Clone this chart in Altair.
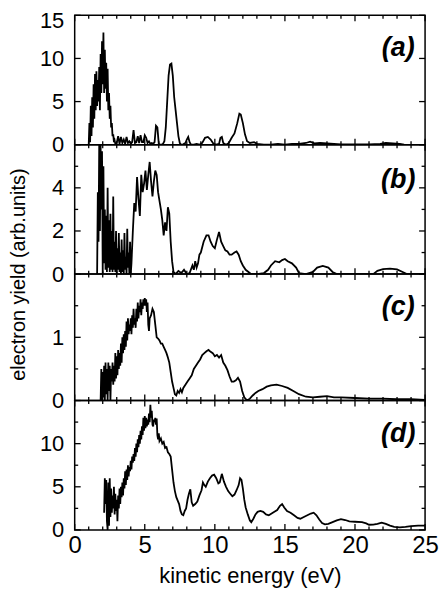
import altair as alt
import pandas as pd

FONT = "Liberation Sans"

# x axis ticks (kinetic energy, eV)
x_major = [0, 5, 10, 15, 20, 25]
x_minor = [1, 2, 3, 4, 6, 7, 8, 9, 11, 12, 13, 14, 16, 17, 18, 19, 21, 22, 23, 24]

# panel (a)
a_points = [(1.00,0.0),(1.05,2.5),(1.10,0.3),(1.15,4.5),(1.20,1.0),(1.25,5.5),(1.30,2.0),(1.35,7.0),
            (1.40,3.0),(1.45,8.2),(1.50,4.0),(1.55,8.5),(1.60,4.5),(1.65,7.5),(1.70,5.0),(1.75,9.0),
            (1.80,4.0),(1.85,10.5),(1.90,6.0),(1.95,12.0),(2.00,7.0),(2.05,13.0),(2.10,6.0),(2.15,11.0),
            (2.20,6.5),(2.25,9.5),(2.30,5.0),(2.35,8.8),(2.40,4.0),(2.45,6.0),(2.50,3.0),(2.55,4.5),
            (2.60,2.0),(2.65,2.5),(2.70,1.0),(2.75,1.2),(2.80,0.3),(2.85,0.5),(2.90,0.1),
            (3.0,0.2),(3.1,1.0),(3.2,0.1),(3.3,0.9),(3.4,0.2),(3.5,0.6),(3.6,0.1),(3.7,0.9),(3.8,0.2),
            (3.9,0.4),(4.0,0.1),(4.1,0.3),(4.2,1.7),(4.3,0.2),(4.4,0.3),(4.5,1.0),(4.6,0.2),(4.7,1.1),
            (4.8,0.3),(4.9,0.3),(5.0,1.1),(5.1,0.8),(5.2,0.2),(5.3,0.4),(5.4,0.1),(5.5,0.2),(5.6,0.1),
            (5.7,0.3),(5.8,2.2),(5.9,2.0),(6.0,0.1),(6.1,0.0),(6.2,0.0),(6.3,0.1),
            (6.4,0.4),(6.5,2.0),(6.6,5.0),(6.7,8.0),(6.8,9.3),(6.9,9.4),(7.0,8.0),(7.1,5.5),(7.2,4.0),
            (7.3,2.5),(7.4,1.0),(7.5,0.2),(7.6,0.0),(7.7,0.0),(7.8,0.1),(7.9,0.2),(8.0,0.6),(8.1,0.9),
            (8.2,0.3),(8.3,0.0),(8.5,0.0),(8.7,0.1),(8.9,0.0),(9.1,0.2),(9.3,0.8),(9.5,0.9),(9.7,0.6),
            (9.9,0.1),(10.1,0.0),(10.3,0.1),(10.4,0.8),(10.5,0.9),(10.6,0.2),(10.8,0.0),(11.0,0.2),
            (11.2,0.8),(11.4,1.3),(11.6,2.5),(11.75,3.6),(11.85,3.5),(12.0,2.5),(12.15,1.2),(12.3,0.4),
            (12.5,0.2),(12.8,0.3),(13.0,0.1),(13.5,0.0),(14.0,0.0),(14.5,0.1),(15.0,0.0),(15.5,0.1),
            (16.0,0.1),(16.5,0.2),(16.8,0.35),(17.1,0.15),(17.5,0.2),(18.0,0.15),(18.5,0.1),(19.0,0.05),
            (20.0,0.05),(21.0,0.05),(21.8,0.1),(22.2,0.2),(22.7,0.15),(23.2,0.1),(23.5,0.0)]

# panel (b)
b_points = [(1.60,0.0),(1.65,3.8),(1.70,1.5),(1.75,6.0),(1.80,2.0),(1.85,6.0),(1.90,3.0),(1.95,5.7),
            (2.00,0.0),(2.05,5.0),(2.10,0.5),(2.15,3.0),(2.20,0.2),(2.25,2.7),(2.30,0.1),(2.35,4.0),
            (2.40,0.3),(2.45,2.5),(2.50,0.1),(2.55,2.8),(2.60,0.2),(2.65,2.0),(2.70,0.1),(2.75,3.6),
            (2.80,0.2),(2.85,1.5),(2.90,0.1),(2.95,2.0),(3.00,0.0),(3.05,1.2),(3.10,0.2),(3.15,1.9),
            (3.20,0.1),(3.25,1.0),(3.30,0.0),(3.35,1.6),(3.40,0.1),(3.45,1.1),(3.50,0.0),(3.55,1.9),
            (3.60,0.2),(3.65,0.8),(3.70,0.0),(3.75,2.1),(3.80,0.3),(3.85,1.0),(3.90,0.0),(3.95,1.5),
            (4.00,0.0),(4.05,0.5),(4.15,2.0),(4.25,3.3),(4.35,2.9),(4.45,4.5),(4.55,3.5),(4.65,2.7),
            (4.75,4.6),(4.85,3.8),(4.95,4.2),(5.05,4.8),(5.15,3.9),(5.25,4.6),(5.35,5.2),(5.45,4.3),
            (5.55,3.6),(5.65,4.3),(5.75,4.8),(5.85,4.6),(5.95,3.8),(6.05,3.4),(6.15,3.0),(6.25,2.5),
            (6.35,1.8),(6.45,2.4),(6.55,2.0),(6.65,3.1),(6.75,2.8),(6.85,1.5),(6.95,0.6),(7.05,0.1),
            (7.2,0.0),(7.4,0.15),(7.6,0.05),(7.8,0.2),(8.0,0.0),(8.2,0.05),(8.4,0.4),(8.5,0.2),(8.6,0.6),
            (8.7,0.3),(8.8,0.5),(8.9,0.9),(9.0,1.0),(9.2,1.5),(9.4,1.8),(9.55,1.8),(9.7,1.5),(9.85,1.3),
            (10.0,1.2),(10.15,1.6),(10.3,1.95),(10.45,1.5),(10.6,1.3),(10.75,1.1),(10.9,1.05),
            (11.05,0.9),(11.2,0.9),(11.4,1.0),(11.55,1.05),(11.7,0.9),(11.85,0.6),(12.0,0.4),(12.2,0.2),
            (12.4,0.1),(12.6,0.0),(13.0,0.0),(13.5,0.05),(13.8,0.2),(14.0,0.4),(14.3,0.6),(14.6,0.55),
            (14.8,0.65),(15.0,0.7),(15.2,0.6),(15.5,0.5),(15.8,0.3),(16.0,0.05),(16.5,0.0),(17.0,0.1),
            (17.3,0.3),(17.7,0.38),(18.1,0.3),(18.4,0.1),(18.7,0.0),(20.0,0.0),(21.3,0.0),(21.6,0.15),
            (22.0,0.23),(22.5,0.25),(23.0,0.22),(23.4,0.1),(23.7,0.0),(25.0,0.0)]

# panel (c)
c_points = [(1.85,0.0),(1.90,0.5),(1.95,0.0),(2.00,0.45),(2.05,0.05),(2.10,0.55),(2.15,0.0),(2.20,0.6),
            (2.25,0.1),(2.30,0.5),(2.35,0.0),(2.40,0.6),(2.45,0.15),(2.50,0.55),(2.55,0.0),(2.60,0.5),
            (2.65,0.3),(2.70,0.6),(2.75,0.25),(2.80,0.55),(2.85,0.3),(2.90,0.75),(2.95,0.35),(3.00,0.7),
            (3.05,0.4),(3.10,0.8),(3.15,0.5),(3.20,0.75),(3.25,0.55),(3.30,0.9),(3.35,0.6),(3.40,1.0),
            (3.45,0.75),(3.50,1.05),(3.55,0.8),(3.60,1.1),(3.65,0.85),(3.70,1.25),(3.75,0.95),(3.80,1.3),
            (3.85,1.05),(3.90,1.2),(3.95,1.1),(4.00,1.3),(4.05,1.05),(4.10,1.35),(4.15,1.15),(4.20,1.45),
            (4.25,1.2),(4.30,1.3),(4.35,1.15),(4.40,1.45),(4.45,1.25),(4.50,1.55),(4.55,1.3),(4.60,1.5),
            (4.65,1.4),(4.70,1.6),(4.75,1.35),(4.80,1.55),(4.85,1.45),(4.90,1.6),(4.95,1.5),(5.00,1.62),
            (5.05,1.5),(5.10,1.6),(5.15,1.4),(5.20,1.55),(5.25,1.2),(5.30,1.1),(5.35,1.3),(5.45,1.35),
            (5.55,1.45),(5.65,1.4),(5.75,1.2),(5.85,1.0),(5.95,0.98),(6.05,0.95),(6.15,0.9),(6.25,0.9),
            (6.35,0.85),(6.45,0.8),(6.55,0.75),(6.65,0.68),(6.75,0.6),(6.85,0.45),(6.95,0.3),(7.05,0.2),
            (7.15,0.1),(7.25,0.08),(7.35,0.15),(7.45,0.12),(7.55,0.18),(7.65,0.13),(7.75,0.2),(7.9,0.25),
            (8.05,0.3),(8.2,0.35),(8.35,0.4),(8.5,0.5),(8.65,0.55),(8.8,0.6),(8.95,0.65),(9.1,0.72),
            (9.25,0.75),(9.4,0.78),(9.55,0.8),(9.7,0.77),(9.85,0.75),(10.0,0.7),(10.15,0.72),(10.3,0.68),
            (10.45,0.72),(10.6,0.6),(10.75,0.55),(10.9,0.48),(11.05,0.38),(11.2,0.3),(11.35,0.3),
            (11.5,0.32),(11.65,0.36),(11.8,0.3),(11.95,0.15),(12.1,0.05),(12.3,0.0),(12.5,0.03),
            (12.7,0.08),(12.9,0.12),(13.1,0.15),(13.4,0.18),(13.7,0.22),(14.0,0.24),(14.4,0.25),
            (14.8,0.23),(15.2,0.2),(15.6,0.15),(16.0,0.1),(16.5,0.06),(17.0,0.05),(17.5,0.06),(18.0,0.07),
            (18.5,0.05),(19.0,0.05),(20.0,0.04),(21.0,0.03),(22.0,0.03),(23.0,0.02),(24.0,0.02),(25.0,0.01)]

# panel (d)
d_points = [(2.10,2.0),(2.15,6.0),(2.20,3.0),(2.25,5.8),(2.30,1.0),(2.35,0.0),(2.40,5.5),(2.45,0.5),
            (2.50,6.0),(2.55,1.5),(2.60,4.8),(2.65,2.0),(2.70,4.0),(2.75,2.5),(2.80,5.0),(2.85,1.8),
            (2.90,4.2),(2.95,2.2),(3.00,3.5),(3.05,1.0),(3.10,4.0),(3.15,2.5),(3.20,4.8),(3.25,3.0),
            (3.30,5.0),(3.35,3.8),(3.40,5.5),(3.45,4.0),(3.50,6.0),(3.55,4.8),(3.60,6.8),(3.65,5.2),
            (3.70,7.0),(3.75,5.8),(3.80,7.5),(3.85,6.2),(3.90,7.3),(3.95,6.8),(4.00,8.0),(4.05,7.0),
            (4.10,8.5),(4.15,7.8),(4.20,8.8),(4.25,8.0),(4.30,9.5),(4.35,8.5),(4.40,10.0),(4.45,9.0),
            (4.50,10.5),(4.55,9.6),(4.60,11.0),(4.65,10.0),(4.70,11.5),(4.75,10.5),(4.80,12.0),(4.85,11.0),
            (4.90,13.0),(4.95,11.5),(5.00,13.2),(5.05,11.8),(5.10,13.0),(5.15,12.0),(5.20,12.8),(5.25,12.2),
            (5.30,13.5),(5.35,12.5),(5.40,14.5),(5.45,13.0),(5.50,13.8),(5.55,12.2),(5.60,12.0),(5.65,12.8),
            (5.70,12.5),(5.75,13.0),(5.80,12.2),(5.85,12.9),(5.90,11.0),(5.95,10.5),(6.00,11.2),(6.05,10.3),
            (6.15,10.6),(6.25,10.0),(6.35,10.2),(6.45,9.5),(6.55,9.6),(6.65,9.0),(6.75,8.8),(6.85,8.5),
            (6.95,7.0),(7.05,5.5),(7.15,4.5),(7.25,3.8),(7.35,3.4),(7.45,3.0),(7.55,2.2),(7.65,1.8),
            (7.75,1.7),(7.85,2.2),(7.95,2.5),(8.05,3.5),(8.15,4.2),(8.25,4.7),(8.35,3.2),(8.45,2.8),
            (8.6,3.0),(8.75,3.3),(8.9,4.0),(9.05,4.6),(9.15,5.5),(9.25,5.2),(9.35,5.0),(9.5,5.6),(9.65,6.0),
            (9.8,6.3),(9.95,6.4),(10.1,6.0),(10.25,5.4),(10.35,5.5),(10.5,6.5),(10.65,5.6),(10.8,5.0),
            (10.95,4.5),(11.1,4.2),(11.25,3.9),(11.4,4.1),(11.55,4.6),(11.7,5.2),(11.8,6.0),(11.9,5.8),
            (12.0,4.8),(12.1,3.5),(12.2,2.6),(12.35,1.8),(12.5,1.1),(12.6,0.9),(12.75,1.3),(12.9,1.8),
            (13.05,2.1),(13.25,2.2),(13.45,2.1),(13.65,1.8),(13.85,1.7),(14.05,1.9),(14.25,2.1),(14.45,2.3),
            (14.65,2.8),(14.8,3.0),(14.95,2.6),(15.15,2.2),(15.4,2.0),(15.65,1.7),(15.9,1.4),(16.1,1.3),
            (16.35,1.5),(16.6,1.7),(16.85,1.9),(17.05,2.0),(17.25,1.7),(17.45,1.2),(17.65,0.8),(17.85,0.65),
            (18.1,0.7),(18.4,0.9),(18.7,1.1),(19.0,1.25),(19.3,1.15),(19.6,1.0),(20.0,0.95),(20.5,0.9),
            (20.8,0.75),(21.0,0.6),(21.3,0.62),(21.6,0.7),(21.9,0.85),(22.2,0.7),(22.5,0.5),(22.8,0.35),
            (23.2,0.3),(23.6,0.35),(24.0,0.45),(24.5,0.5),(25.0,0.5)]

panel_labels = ["(a)", "(b)", "(c)", "(d)"]
y_max = [15, 6, 2, 15]
y_major = [[0, 5, 10, 15], [0, 2, 4], [0, 1], [0, 5, 10]]
y_minor = [[], [1, 3, 5], [0.5, 1.5], [2.5, 7.5, 12.5]]
heights = [130, 130, 127, 130]
WIDTH = 352
MAJOR_LEN = 6
MINOR_LEN = 3.5
LABEL_X = 325
LABEL_Y = [33, 35, 33, 34]

AX = dict(grid=False, ticks=False, domain=False, labelColor="black", titleColor="black",
          labelFont=FONT, titleFont=FONT, titleFontWeight="normal", labelOverlap=False)


def tick_rules(values, channel, scale, h, length):
    df = pd.DataFrame({"v": values})
    layers = []
    for side in (0, 1):
        base = alt.Chart(df).mark_rule(color="black", strokeWidth=1.3)
        if channel == "x":
            p0 = 0 if side == 0 else h
            p1 = length if side == 0 else h - length
            layers.append(base.encode(x=alt.X("v:Q", scale=scale, axis=None),
                                      y=alt.value(p0), y2=alt.value(p1)))
        else:
            p0 = 0 if side == 0 else WIDTH
            p1 = length if side == 0 else WIDTH - length
            layers.append(base.encode(y=alt.Y("v:Q", scale=scale, axis=None),
                                      x=alt.value(p0), x2=alt.value(p1)))
    return layers


def panel(points, idx):
    df = pd.DataFrame(points, columns=["energy", "yield"])
    h = heights[idx]
    xs = alt.Scale(domain=[0, 25], nice=False, zero=False)
    ys = alt.Scale(domain=[0, y_max[idx]], nice=False, zero=False)
    last = idx == 3

    x_ax = dict(orient="bottom", values=x_major, labels=last, labelFontSize=24, labelPadding=4,
                labelFlush=False, **AX)
    if last:
        x_ax.update(title="kinetic energy (eV)", titleFontSize=22, titlePadding=8)
    else:
        x_ax.update(title=None)
    top_val = y_max[idx]
    y_ax = dict(orient="left", values=y_major[idx], labelFontSize=22, labelPadding=11,
                labelOffset={"condition": {"test": f"datum.value == {top_val}", "value": 5}, "value": 0},
                **AX)
    if idx == 1:
        y_ax.update(title="electron yield (arb.units)", titleFontSize=20, titleAngle=270,
                    titleX=-56, titleY=h, titleAlign="center", titleBaseline="middle")
    else:
        y_ax.update(title=None)

    line = alt.Chart(df).mark_line(color="black", strokeWidth=1.8, clip=True).encode(
        x=alt.X("energy:Q", scale=xs, axis=alt.Axis(**x_ax)),
        y=alt.Y("yield:Q", scale=ys, axis=alt.Axis(**y_ax)),
    )
    layers = [line]
    layers += tick_rules(x_major, "x", xs, h, MAJOR_LEN)
    layers += tick_rules(x_minor, "x", xs, h, MINOR_LEN)
    layers += tick_rules(y_major[idx], "y", ys, h, MAJOR_LEN)
    if y_minor[idx]:
        layers += tick_rules(y_minor[idx], "y", ys, h, MINOR_LEN)
    lab = alt.Chart(pd.DataFrame({"label": [panel_labels[idx]]})).mark_text(
        font=FONT, fontSize=27, fontWeight="bold", fontStyle="italic", align="center", baseline="middle",
        color="black").encode(text="label:N", x=alt.value(LABEL_X), y=alt.value(LABEL_Y[idx]))
    layers.append(lab)
    return (alt.layer(*layers).resolve_axis(x="independent", y="independent")
            .properties(width=WIDTH, height=h))


panels = [panel(p, i) for i, p in enumerate([a_points, b_points, c_points, d_points])]
chart = (alt.vconcat(*panels, spacing=0, bounds="flush")
         .properties(padding={"top": -1, "left": 0, "right": 0, "bottom": 0})
         .configure_view(stroke="black", strokeWidth=1.5))

chart.save("out.html", embed_options={"renderer": "svg", "actions": False})
